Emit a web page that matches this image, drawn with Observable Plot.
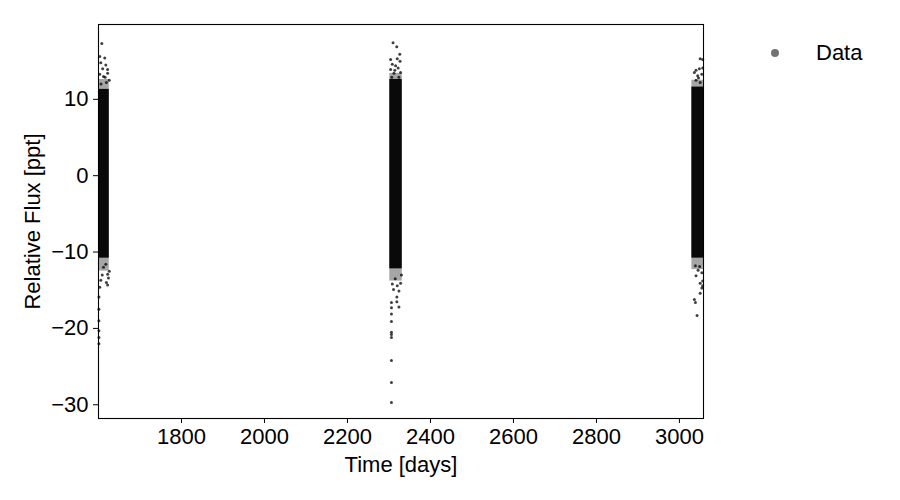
<!DOCTYPE html>
<html><head><meta charset="utf-8">
<script src="https://cdn.jsdelivr.net/npm/d3@7"></script>
<script src="https://cdn.jsdelivr.net/npm/@observablehq/plot@0.6"></script>
<style>
body{margin:0;background:#fff;font-family:"Liberation Sans",Arial,sans-serif}
#wrap{position:relative;width:900px;height:500px}
#legend{position:absolute;left:771px;top:39px;height:28px;display:flex;align-items:center;font-size:22px;color:#000}
#legend .sw{width:8px;height:8px;border-radius:50%;background:rgba(0,0,0,0.55);margin-right:37px}
</style></head><body><div id="wrap"><div id="legend"><span class="sw"></span><span>Data</span></div></div>
<script>
// Observing sectors: time ranges of each dense block of photometry
const sectorStart = [1600, 2302, 3030];
const sectorEnd   = [1626, 2332, 3058];
// dense core of each sector (ppt)
const coreLow  = [-10.8, -12.2, -10.8];
const coreHigh = [11.3, 12.6, 11.6];
// looser envelope around the core (ppt)
const haloLow  = [-12.5, -13.8, -12.3];
const haloHigh = [12.6, 13.4, 12.5];

// individually visible points outside the dense core
const s1Time = [1608,1603,1615,1605.5,1617.6,1622,1610,1622,1616,1626,1603,1612,1619,1606,
  1617.6,1626,1622,1624,1619,1622,1603,1605.5,1612,1609,1601,1601,1601,1601,1601,1601];
const s1Flux = [17.3,15.6,15.4,14.8,14.5,13.9,14.0,13.4,12.9,12.5,13.3,13.0,12.2,12.0,
  -11.6,-12.5,-12.9,-13.4,-14.0,-14.3,-14.6,-13.7,-12.0,-13.0,-15.9,-17.5,-19.0,-20.3,-21.2,-22.0];
const s2Time = [2309.8,2318.8,2326,2304,2326.7,2308,2316,2322,2304,2328,2312,2306.7,2324,2314,2320,
  2328,2308,2320,2311,2324,2319,2319,2306,2324,2306,2315,2330,2306,2306,2306,2306,2306,2306,2306,2306];
const s2Flux = [17.4,16.9,15.9,15.2,15.0,14.6,14.4,14.1,13.9,13.5,13.4,12.9,12.9,13.8,15.3,
  -14.1,-14.2,-14.4,-14.9,-15.1,-15.9,-16.5,-16.6,-17.2,-17.3,-13.5,-13.0,-18.1,-19.1,-20.5,-20.8,-21.2,-24.2,-27.1,-29.7];
const s3Time = [3050,3056,3040,3048,3036,3054,3044,3040,3050,3056,3046,
  3038.5,3048.6,3054,3040,3050,3056,3054,3050,3036,3038.5,3042.5,3056,3045];
const s3Flux = [15.3,15.2,13.8,14.0,13.5,13.3,13.1,12.5,12.2,14.1,12.8,
  -11.8,-11.9,-12.7,-13.1,-14.1,-14.4,-14.7,-15.4,-16.2,-16.6,-18.3,-13.8,-12.4];

const xTicks = [1800, 2000, 2200, 2400, 2600, 2800, 3000];
const yTicks = [-30, -20, -10, 0, 10];

const sectors = sectorStart.map((s, i) => ({x1: s, x2: sectorEnd[i], c1: coreLow[i], c2: coreHigh[i], h1: haloLow[i], h2: haloHigh[i]}));
const pts = [
  ...s1Time.map((t, i) => ({t, f: s1Flux[i]})),
  ...s2Time.map((t, i) => ({t, f: s2Flux[i]})),
  ...s3Time.map((t, i) => ({t, f: s3Flux[i]}))
];

const chart = Plot.plot({
  width: 900, height: 500,
  marginLeft: 98, marginRight: 197, marginTop: 24, marginBottom: 82,
  style: {fontFamily: "Liberation Sans, Arial, sans-serif", fontSize: "22px", background: "white", color: "black"},
  x: {domain: [1600, 3058]},
  y: {domain: [-31.8, 19.8]},
  marks: [
    Plot.rect(sectors, {x1: "x1", x2: "x2", y1: "h1", y2: "h2", fill: "black", fillOpacity: 0.35}),
    Plot.rect(sectors, {x1: "x1", x2: "x2", y1: "c1", y2: "c2", fill: "black", fillOpacity: 0.95}),
    Plot.dot(pts, {x: "t", y: "f", r: 1.5, fill: "black", fillOpacity: 0.75, stroke: "none"}),
    Plot.frame({stroke: "black", strokeWidth: 1.1}),
    Plot.axisX({ticks: xTicks, tickFormat: d3.format("d"), tickSize: 5, tickPadding: 5, fontSize: 22, label: "Time [days]", labelAnchor: "center", labelArrow: "none", labelOffset: 53}),
    Plot.axisY({ticks: yTicks, tickFormat: d3.format("d"), tickSize: 5, tickPadding: 5, fontSize: 22, label: "Relative Flux [ppt]", labelAnchor: "center", labelArrow: "none", labelOffset: 74})
  ]
});
document.getElementById("wrap").prepend(chart);
chart.style.position = "absolute"; chart.style.left = "0"; chart.style.top = "0";
</script></body></html>
